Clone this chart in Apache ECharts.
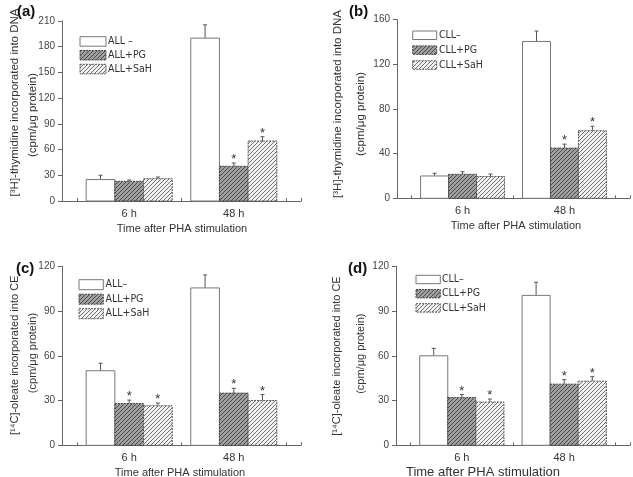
<!DOCTYPE html>
<html><head><meta charset="utf-8">
<script src="https://cdn.jsdelivr.net/npm/echarts@6/dist/echarts.min.js"></script>
<style>html,body{margin:0;padding:0;background:#fff}#c{width:633px;height:477px}</style>
</head><body><div id="c"></div>
<script>
// ---------- data ----------
const categories = ['6 h', '48 h'];

// (a) ALL, [3H]-thymidine
const aNames = ['ALL \u2013', 'ALL+PG', 'ALL+SaH'];
const aCtrl = [25, 190],  aCtrlErr = [5, 15.5];
const aPG   = [23, 40.5], aPGErr   = [1.5, 3.8];
const aSaH  = [26, 70],   aSaHErr  = [2, 5];
const aPGStar = [0, 1], aSaHStar = [0, 1];
const aYTicks = [0, 30, 60, 90, 120, 150, 180, 210];

// (b) CLL, [3H]-thymidine
const bNames = ['CLL\u2013', 'CLL+PG', 'CLL+SaH'];
const bCtrl = [20, 140.5], bCtrlErr = [2.4, 9.3];
const bPG   = [21.5, 45],  bPGErr   = [2.3, 3.5];
const bSaH  = [19.5, 60.5], bSaHErr = [2.2, 4];
const bPGStar = [0, 1], bSaHStar = [0, 1];
const bYTicks = [0, 40, 80, 120, 160];

// (c) ALL, [14C]-oleate
const cNames = ['ALL\u2013', 'ALL+PG', 'ALL+SaH'];
const cCtrl = [50, 105.5], cCtrlErr = [5, 8.7];
const cPG   = [28, 35],    cPGErr   = [2.3, 3.2];
const cSaH  = [26.5, 30],  cSaHErr  = [1.8, 4];
const cPGStar = [1, 1], cSaHStar = [1, 1];
const cYTicks = [0, 30, 60, 90, 120];

// (d) CLL, [14C]-oleate
const dNames = ['CLL\u2013', 'CLL+PG', 'CLL+SaH'];
const dCtrl = [60, 100.5], dCtrlErr = [5, 8.8];
const dPG   = [32, 41],    dPGErr   = [2, 3];
const dSaH  = [29, 43],    dSaHErr  = [2, 3];
const dPGStar = [1, 1], dSaHStar = [1, 1];
const dYTicks = [0, 30, 60, 90, 120];

const yTitlesDNA = ['[\u00B3H]-thymidine incorporated into DNA', '(cpm/\u03BCg protein)'];
const yTitlesCE  = ['[\u00B9\u2074C]-oleate incorporated into CE', '(cpm/\u03BCg protein)'];
const xTitle = 'Time after PHA stimulation';
const panelTags = ['(a)', '(b)', '(c)', '(d)'];

// ---------- styling / layout ----------
const FONT = '"Liberation Sans", Arial, sans-serif';
const NARROW = '"Liberation Sans Narrow", "Arial Narrow", "DejaVu Sans Condensed", "Liberation Sans", sans-serif';
const AXIS = '#666';
const TXT = '#333';
const GROUP_CENTERS = [4.5, 11.5];
const BAR_W = 1.92;

function hatch(bg, line, s, lw) {
  const c = document.createElement('canvas');
  c.width = s; c.height = s;
  const g = c.getContext('2d');
  g.fillStyle = bg; g.fillRect(0, 0, s, s);
  g.strokeStyle = line; g.lineWidth = lw;
  g.beginPath();
  g.moveTo(0, s); g.lineTo(s, 0);
  g.moveTo(-1, 1); g.lineTo(1, -1);
  g.moveTo(s - 1, s + 1); g.lineTo(s + 1, s - 1);
  g.stroke();
  return { image: c, repeat: 'repeat' };
}
const FILLS = ['#ffffff', hatch('#a0a0a0', '#4a4a4a', 4, 1), hatch('#f2f2f2', '#707070', 4, 1)];
const STROKES = ['#777', '#444', '#555'];
const DASH = [null, [2, 1], [2, 1]];

const panels = [
  { names: aNames, vals: [aCtrl, aPG, aSaH], errs: [aCtrlErr, aPGErr, aSaHErr], stars: [[0,0], aPGStar, aSaHStar],
    ticks: aYTicks, grid: { left: 62, top: 21, width: 239, height: 180 },
    legend: { x: 80, y: 36.7, gap: 13.8, w: 26, h: 9.5, tx: 108 },
    ytitle: yTitlesDNA, yt: [[15, 102.5], [33, 115]], yfs: 11.5,
    xt: [182, 229, 11], tag: [17, 12] },
  { names: bNames, vals: [bCtrl, bPG, bSaH], errs: [bCtrlErr, bPGErr, bSaHErr], stars: [[0,0], bPGStar, bSaHStar],
    ticks: bYTicks, grid: { left: 397, top: 19.7, width: 236, height: 178.6 },
    legend: { x: 412.7, y: 31, gap: 14.9, w: 24, h: 8.5, tx: 439 },
    ytitle: yTitlesDNA, yt: [[337.7, 104], [361, 114]], yfs: 11.5,
    xt: [516, 226, 11], tag: [349, 12] },
  { names: cNames, vals: [cCtrl, cPG, cSaH], errs: [cCtrlErr, cPGErr, cSaHErr], stars: [[0,0], cPGStar, cSaHStar],
    ticks: cYTicks, grid: { left: 62, top: 266.3, width: 239, height: 179 },
    legend: { x: 79, y: 279.7, gap: 14.5, w: 24.3, h: 10, tx: 105.5 },
    ytitle: yTitlesCE, yt: [[15, 355.3], [33, 353]], yfs: 11,
    xt: [180, 473, 11], tag: [16, 268.7] },
  { names: dNames, vals: [dCtrl, dPG, dSaH], errs: [dCtrlErr, dPGErr, dSaHErr], stars: [[0,0], dPGStar, dSaHStar],
    ticks: dYTicks, grid: { left: 396, top: 266.3, width: 237, height: 179 },
    legend: { x: 416, y: 275.3, gap: 14.2, w: 24.3, h: 8.4, tx: 442 },
    ytitle: yTitlesCE, yt: [[336.7, 356], [361, 353.7]], yfs: 11,
    xt: [483, 472, 13], tag: [348, 269] }
];

const grid = [], xAxis = [], yAxis = [], series = [], graphic = [];

panels.forEach((p, pi) => {
  grid.push(p.grid);
  const tks = p.ticks;
  xAxis.push({
    gridIndex: pi, type: 'value', position: 'bottom', min: 0, max: 16, interval: 1,
    axisLine: { show: true, lineStyle: { color: AXIS, width: 1 } },
    axisTick: { show: true, inside: true, length: 3, lineStyle: { color: AXIS } },
    axisLabel: { show: false }, splitLine: { show: false }
  });
  xAxis.push({
    gridIndex: pi, type: 'value', position: 'bottom', offset: 0, min: 0, max: 16, interval: 0.5,
    axisLine: { show: false }, axisTick: { show: false }, splitLine: { show: false },
    axisLabel: {
      show: true, margin: 7, color: TXT, fontSize: 11, fontFamily: FONT,
      formatter: v => { const i = GROUP_CENTERS.indexOf(v); return i >= 0 ? categories[i] : ''; }
    }
  });
  yAxis.push({
    gridIndex: pi, type: 'value', min: tks[0], max: tks[tks.length - 1], interval: tks[1] - tks[0],
    axisLine: { show: true, lineStyle: { color: AXIS, width: 1 } },
    axisTick: { show: true, inside: false, length: 4, lineStyle: { color: AXIS } },
    axisLabel: { color: '#444', fontSize: 10, fontFamily: FONT, margin: 7 },
    splitLine: { show: false }
  });

  p.vals.forEach((vals, si) => {
    const offset = (si - 1) * BAR_W;
    const data = categories.map((c, i) => [GROUP_CENTERS[i] + offset, vals[i], p.errs[si][i], p.stars[si][i]]);
    series.push({
      type: 'custom', name: p.names[si], coordinateSystem: 'cartesian2d',
      xAxisIndex: pi * 2, yAxisIndex: pi, encode: { x: 0, y: 1 },
      data: data, silent: true,
      renderItem: (params, api) => {
        const x = api.value(0), y = api.value(1), e = api.value(2), st = api.value(3);
        const base = api.coord([x, 0]);
        const top = api.coord([x, y]);
        const et = api.coord([x, y + e]);
        const w = api.size([BAR_W, 0])[0];
        const children = [
          { type: 'line', shape: { x1: top[0], y1: top[1], x2: top[0], y2: et[1] },
            style: { stroke: '#555', lineWidth: 1 } },
          { type: 'line', shape: { x1: top[0] - 2, y1: et[1], x2: top[0] + 2, y2: et[1] },
            style: { stroke: '#555', lineWidth: 1 } },
          { type: 'rect', shape: { x: base[0] - w / 2, y: top[1], width: w, height: base[1] - top[1] },
            style: { fill: FILLS[si], stroke: STROKES[si], lineWidth: 1, lineDash: DASH[si] } }
        ];
        if (st) {
          children.push({ type: 'text', style: { text: '*', x: top[0], y: et[1] + 3, align: 'center',
            verticalAlign: 'bottom', fontSize: 13, fontFamily: FONT, fill: '#333' } });
        }
        return { type: 'group', children: children };
      }
    });
  });

  // legend
  p.names.forEach((n, si) => {
    const L = p.legend;
    const yy = L.y + si * L.gap;
    graphic.push({ type: 'rect', shape: { x: L.x, y: yy, width: L.w, height: L.h },
      style: { fill: FILLS[si], stroke: STROKES[si], lineWidth: 1, lineDash: DASH[si] } });
    graphic.push({ type: 'text', x: L.tx, y: yy + L.h / 2,
      style: { text: n, fill: TXT, fontSize: 10.5, fontFamily: NARROW, verticalAlign: 'middle', align: 'left' } });
  });
  // y titles
  p.ytitle.forEach((t, li) => {
    graphic.push({ type: 'text', x: p.yt[li][0], y: p.yt[li][1], rotation: Math.PI / 2,
      style: { text: t, fill: TXT, fontSize: p.yfs, fontFamily: FONT, align: 'center', verticalAlign: 'middle' } });
  });
  // x title
  graphic.push({ type: 'text', x: p.xt[0], y: p.xt[1],
    style: { text: xTitle, fill: TXT, fontSize: p.xt[2], fontFamily: FONT, align: 'center', verticalAlign: 'middle' } });
  // tag
  graphic.push({ type: 'text', x: p.tag[0], y: p.tag[1],
    style: { text: panelTags[pi], fill: '#111', fontSize: 15, fontWeight: 'bold', fontFamily: FONT, align: 'left', verticalAlign: 'middle' } });
});

const chart = echarts.init(document.getElementById('c'), null, { renderer: 'canvas' });
chart.setOption({ animation: false, backgroundColor: '#fff', grid, xAxis, yAxis, series, graphic });
</script>
</body></html>
